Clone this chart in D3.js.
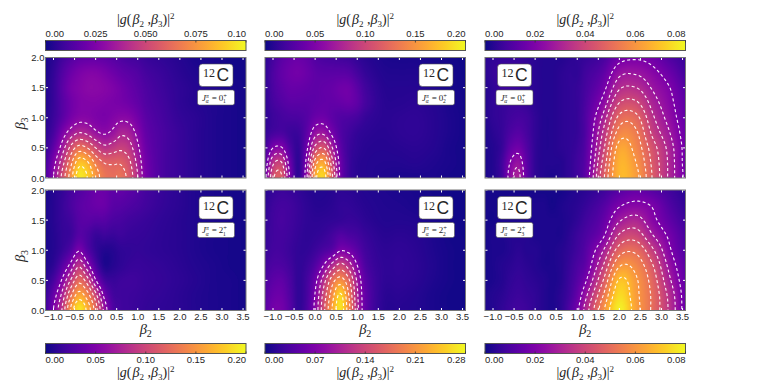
<!DOCTYPE html>
<html>
<head>
<meta charset="utf-8">
<script src="https://cdnjs.cloudflare.com/ajax/libs/d3/7.8.5/d3.min.js"></script>
<style>
body { margin: 0; background: #fff; }
svg { display: block; }
text { font-family: "Liberation Sans", sans-serif; fill: #262626; }
.math, .math text { font-family: "Liberation Serif", serif; }
</style>
</head>
<body>
<div id="chart"></div>
<script>
// sample positions
var beta2Grid = [-1.2,-1,-.8,-.6,-.4,-.2,0,.2,.4,.6,.8,1,1.2,1.6,2,2.4,2.8,3.2,3.6];
var beta3Grid = [0,.25,.5,.75,1,1.25,1.5,1.75,2];

var xTicks = [-1,-.5,0,.5,1,1.5,2,2.5,3,3.5];
var yTicks = [0,.5,1,1.5,2];

// one row per beta3, one column per beta2
var state01 = [
[.012,.030,.052,.074,.095,.090,.075,.066,.063,.064,.056,.040,.023,.012,.008,.005,.003,.002,.001],
[.010,.026,.045,.066,.086,.082,.068,.060,.059,.059,.052,.037,.022,.012,.008,.005,.003,.002,.001],
[.007,.018,.034,.052,.064,.060,.050,.043,.045,.048,.044,.032,.020,.012,.008,.005,.003,.002,.001],
[.005,.012,.024,.034,.040,.038,.032,.029,.032,.038,.036,.027,.018,.012,.008,.005,.003,.002,.001],
[.004,.009,.016,.023,.027,.027,.025,.024,.026,.028,.027,.022,.016,.011,.007,.005,.003,.002,.001],
[.003,.008,.015,.021,.025,.026,.026,.025,.024,.023,.021,.018,.014,.010,.006,.004,.003,.002,.001],
[.003,.008,.016,.023,.026,.028,.028,.027,.025,.022,.019,.016,.013,.009,.006,.004,.003,.002,.001],
[.002,.007,.014,.020,.024,.026,.026,.024,.021,.018,.016,.014,.011,.008,.005,.003,.002,.001,.001],
[.002,.005,.010,.014,.017,.018,.018,.017,.015,.013,.011,.010,.008,.006,.004,.002,.002,.001,.001]];
var state02 = [
[.038,.105,.112,.048,.012,.066,.160,.182,.115,.045,.018,.010,.008,.006,.005,.005,.005,.003,.002],
[.030,.086,.092,.040,.012,.058,.140,.158,.100,.042,.018,.010,.008,.007,.007,.008,.006,.004,.002],
[.020,.050,.052,.026,.014,.045,.096,.110,.072,.034,.018,.012,.009,.008,.009,.010,.008,.004,.002],
[.014,.022,.024,.018,.018,.034,.062,.066,.046,.028,.020,.014,.011,.009,.011,.012,.009,.005,.002],
[.012,.018,.022,.024,.025,.030,.040,.042,.034,.028,.026,.022,.015,.010,.011,.012,.009,.005,.002],
[.012,.022,.028,.032,.032,.032,.034,.036,.036,.038,.040,.034,.022,.010,.009,.010,.008,.004,.002],
[.012,.025,.033,.038,.038,.036,.034,.036,.038,.042,.042,.032,.020,.009,.008,.008,.006,.003,.002],
[.012,.026,.036,.042,.044,.040,.034,.032,.032,.032,.030,.022,.014,.007,.006,.006,.004,.003,.001],
[.010,.022,.032,.038,.040,.036,.028,.024,.022,.020,.018,.013,.009,.005,.004,.004,.003,.002,.001]];
var state03 = [
[.002,.003,.008,.023,.029,.014,.005,.003,.002,.003,.005,.008,.014,.044,.067,.062,.046,.031,.017],
[.002,.003,.008,.020,.025,.013,.005,.003,.003,.003,.005,.008,.013,.041,.066,.060,.045,.031,.016],
[.002,.003,.006,.014,.017,.011,.005,.003,.003,.004,.005,.007,.012,.037,.063,.057,.043,.030,.016],
[.002,.004,.006,.010,.012,.009,.005,.003,.003,.004,.005,.006,.011,.033,.056,.054,.038,.027,.015],
[.003,.005,.006,.008,.009,.008,.005,.003,.003,.004,.005,.006,.011,.028,.049,.049,.034,.024,.014],
[.003,.005,.006,.007,.007,.006,.004,.003,.003,.004,.005,.006,.010,.022,.040,.041,.030,.022,.013],
[.003,.005,.007,.007,.006,.005,.004,.003,.003,.004,.005,.006,.009,.017,.032,.033,.026,.020,.011],
[.004,.006,.007,.008,.007,.006,.004,.003,.003,.004,.005,.005,.008,.013,.025,.026,.022,.016,.008],
[.004,.005,.006,.006,.006,.005,.004,.003,.003,.003,.004,.005,.006,.009,.017,.019,.017,.011,.006]];
var state21 = [
[.018,.050,.090,.150,.190,.165,.120,.065,.028,.020,.018,.016,.014,.012,.010,.007,.005,.004,.002],
[.014,.040,.075,.125,.159,.140,.098,.046,.022,.019,.018,.017,.015,.013,.010,.007,.005,.004,.002],
[.009,.024,.052,.090,.123,.100,.052,.022,.016,.018,.019,.018,.016,.014,.011,.008,.005,.004,.002],
[.005,.012,.030,.055,.086,.058,.025,.006,.008,.012,.015,.016,.015,.013,.010,.007,.005,.003,.002],
[.004,.008,.016,.028,.048,.030,.014,.007,.008,.012,.013,.014,.013,.011,.009,.006,.004,.003,.002],
[.004,.008,.014,.018,.030,.025,.016,.018,.016,.018,.016,.015,.014,.011,.009,.006,.004,.003,.002],
[.004,.009,.015,.020,.030,.032,.030,.030,.025,.023,.020,.018,.016,.012,.009,.006,.004,.003,.002],
[.004,.009,.016,.024,.032,.036,.040,.040,.032,.030,.027,.024,.020,.014,.010,.006,.004,.003,.002],
[.003,.008,.014,.022,.028,.034,.040,.040,.034,.036,.032,.028,.022,.015,.010,.006,.004,.003,.002]];
var state22 = [
[.045,.062,.062,.042,.018,.035,.078,.150,.220,.265,.200,.110,.050,.015,.012,.010,.006,.003,.002],
[.040,.055,.056,.038,.018,.032,.072,.140,.205,.255,.190,.105,.050,.016,.014,.011,.006,.003,.002],
[.034,.046,.048,.034,.018,.030,.060,.115,.175,.204,.165,.095,.045,.018,.017,.014,.008,.004,.002],
[.028,.036,.036,.028,.018,.024,.040,.070,.110,.140,.115,.070,.035,.018,.018,.015,.009,.004,.002],
[.022,.030,.030,.024,.018,.018,.025,.035,.045,.068,.062,.045,.028,.016,.017,.014,.008,.004,.002],
[.020,.028,.030,.026,.020,.016,.018,.022,.030,.040,.035,.030,.022,.013,.014,.012,.007,.003,.002],
[.018,.028,.032,.028,.022,.017,.015,.016,.018,.020,.022,.020,.015,.010,.010,.009,.005,.003,.001],
[.016,.026,.030,.028,.022,.016,.012,.012,.014,.018,.018,.015,.012,.009,.008,.006,.004,.002,.001],
[.012,.020,.024,.022,.018,.013,.010,.010,.012,.015,.014,.012,.010,.008,.006,.005,.003,.002,.001]];
var state23 = [
[.002,.003,.005,.007,.008,.007,.005,.003,.002,.004,.010,.018,.031,.057,.078,.063,.050,.034,.014],
[.002,.003,.004,.006,.007,.006,.005,.003,.002,.004,.008,.015,.026,.051,.074,.062,.050,.033,.014],
[.001,.002,.003,.005,.006,.005,.004,.003,.002,.003,.007,.012,.019,.043,.069,.061,.048,.029,.013],
[.001,.002,.003,.004,.005,.004,.003,.002,.002,.003,.006,.010,.014,.035,.059,.057,.044,.025,.012],
[.001,.002,.002,.003,.004,.003,.003,.002,.002,.003,.005,.008,.012,.027,.048,.050,.037,.021,.010],
[.001,.002,.002,.003,.003,.003,.002,.002,.002,.002,.004,.007,.010,.018,.037,.040,.028,.018,.009],
[.001,.001,.002,.002,.002,.002,.002,.002,.002,.002,.003,.005,.008,.014,.027,.031,.022,.014,.007],
[.001,.001,.001,.002,.002,.002,.002,.002,.001,.002,.003,.004,.006,.011,.019,.022,.019,.011,.005],
[.001,.001,.001,.001,.001,.001,.001,.001,.001,.001,.002,.003,.004,.007,.012,.015,.012,.008,.004]];

// contour levels
var levels01 = [.03,.04,.05,.06,.07,.08,.09];
var levels02 = [.05,.07,.09,.11,.13,.15,.17];
var levels03 = [.02,.027,.033,.04,.047,.053,.06];
var levels21 = [.05,.07,.09,.11,.13,.15,.17];
var levels22 = [.07,.10,.13,.16,.19,.22,.25];
var levels23 = [.02,.028,.036,.044,.052,.06,.068];

// colorbar ticks
var cbarValues01 = [0,.025,.05,.075,.1];
var cbarLabels01 = ["0.00","0.025","0.050","0.075","0.10"];
var cbarValues02 = [0,.05,.1,.15,.2];
var cbarLabels02 = ["0.00","0.05","0.10","0.15","0.20"];
var cbarValues03 = [0,.02,.04,.06,.08];
var cbarLabels03 = ["0.00","0.02","0.04","0.06","0.08"];
var cbarValues21 = [0,.05,.1,.15,.2];
var cbarLabels21 = ["0.00","0.05","0.10","0.15","0.20"];
var cbarValues22 = [0,.07,.14,.21,.28];
var cbarLabels22 = ["0.00","0.07","0.14","0.21","0.28"];
var cbarValues23 = [0,.02,.04,.06,.08];
var cbarLabels23 = ["0.00","0.02","0.04","0.06","0.08"];

var panels = [
    {col:0, row:0, z:state01, levels:levels01, ticks:cbarValues01, labels:cbarLabels01, spin:"0", idx:"1"},
    {col:1, row:0, z:state02, levels:levels02, ticks:cbarValues02, labels:cbarLabels02, spin:"0", idx:"2"},
    {col:2, row:0, z:state03, levels:levels03, ticks:cbarValues03, labels:cbarLabels03, spin:"0", idx:"3"},
    {col:0, row:1, z:state21, levels:levels21, ticks:cbarValues21, labels:cbarLabels21, spin:"2", idx:"1"},
    {col:1, row:1, z:state22, levels:levels22, ticks:cbarValues22, labels:cbarLabels22, spin:"2", idx:"2"},
    {col:2, row:1, z:state23, levels:levels23, ticks:cbarValues23, labels:cbarLabels23, spin:"2", idx:"3"}
];

var colLeft = [45.5, 265, 485];
var rowTop = [57.5, 190];
var panelW = 200.5, panelH = 120.5;
var boxLeft = [153.5, 154, 12.5];

var svg = d3.select("#chart").append("svg").attr("width", 762).attr("height", 388);
var defs = svg.append("defs");

// piecewise cubic through the read values
function hermite(xs, ys, x) {
    var n = xs.length;
    var i = Math.max(0, Math.min(n - 2, d3.bisectRight(xs, x) - 1));
    var h = xs[i + 1] - xs[i];
    var t = (x - xs[i]) / h;
    var s0 = i > 0 ? (ys[i + 1] - ys[i - 1]) / (xs[i + 1] - xs[i - 1]) : (ys[1] - ys[0]) / h;
    var s1 = i < n - 2 ? (ys[i + 2] - ys[i]) / (xs[i + 2] - xs[i]) : (ys[n - 1] - ys[n - 2]) / h;
    var t2 = t * t, t3 = t2 * t;
    return (2*t3 - 3*t2 + 1) * ys[i] + (t3 - 2*t2 + t) * h * s0 + (-2*t3 + 3*t2) * ys[i + 1] + (t3 - t2) * h * s1;
}

// write a line of mixed serif text, parts are [text, style, dy, size, dx]
function mathParts(t, parts) {
    parts.forEach(function(p) {
        var s = t.append("tspan").text(p[0]);
        if (p[1]) s.style("font-style", p[1]);
        if (p[2]) s.attr("dy", p[2]);
        if (p[3]) s.style("font-size", p[3] + "px");
        if (p[4]) s.attr("dx", p[4]);
    });
}

var titleParts = [["|"],["g","italic"],["("],["β","italic",0,0,1],["2","normal",3,9],[" ,","normal",-3],["β","italic"],["3","normal",3,9],[")","normal",-3],["|"],["2","normal",-5,9]];

panels.forEach(function(p, k) {
    var x0 = colLeft[p.col], y0 = rowTop[p.row];
    var x = d3.scaleLinear().domain([-1.19, 3.57]).range([x0, x0 + panelW]);
    var y = d3.scaleLinear().domain([0, 2]).range([y0 + panelH, y0]);
    var vmax = p.ticks[p.ticks.length - 1];
    var color = d3.scaleSequential(d3.interpolatePlasma).domain([0, vmax]);

    // mirror the first row so the field is smooth at beta3 = 0
    var b3 = [-.25].concat(beta3Grid);
    var zRows = [p.z[1]].concat(p.z);

    var nx = Math.round(panelW) + 1, ny = Math.round(panelH) + 1;
    var cols = d3.range(nx).map(function(i) {
        var bx = x.invert(x0 + i * panelW / (nx - 1));
        return zRows.map(function(r) { return hermite(beta2Grid, r, bx); });
    });
    function field(i, j) {
        // j = 0 is beta3 = 2, j = ny-1 is beta3 = 0
        var by = Math.abs(y.invert(y0 + j * panelH / (ny - 1)));
        return Math.max(0, hermite(b3, cols[i], by));
    }

    // heatmap
    var canvas = document.createElement("canvas");
    canvas.width = nx; canvas.height = ny;
    var ctx = canvas.getContext("2d");
    var mirrored = new Float64Array(nx * (2 * ny - 1));
    for (var j = 0; j < ny; j++) {
        for (var i = 0; i < nx; i++) {
            var v = field(i, j);
            mirrored[j * nx + i] = v;
            mirrored[(2 * ny - 2 - j) * nx + i] = v;
            ctx.fillStyle = color(Math.min(v, vmax));
            ctx.fillRect(i, j, 1, 1);
        }
    }
    svg.append("image")
        .attr("x", x0).attr("y", y0)
        .attr("width", panelW).attr("height", panelH)
        .attr("preserveAspectRatio", "none")
        .attr("href", canvas.toDataURL());

    // contours, drawn on the mirrored field then clipped so nothing runs along the axis
    var clipId = "clip" + k;
    defs.append("clipPath").attr("id", clipId).append("rect")
        .attr("x", x0).attr("y", y0).attr("width", panelW).attr("height", panelH);
    var m = 2 * ny - 1;
    var cx = d3.scaleLinear().domain([.5, nx - .5]).range([x0, x0 + panelW]);
    var cy = d3.scaleLinear().domain([.5, ny - .5]).range([y0, y0 + panelH]);
    var path = d3.geoPath(d3.geoTransform({
        point: function(a, b) { this.stream.point(cx(a), cy(b)); }
    }));
    var contours = d3.contours().size([nx, m]).thresholds(p.levels)(mirrored);
    svg.append("g").attr("clip-path", "url(#" + clipId + ")")
        .selectAll("path").data(contours).enter().append("path")
        .attr("d", path)
        .attr("fill", "none")
        .attr("stroke", "#fff")
        .attr("stroke-opacity", .95)
        .attr("stroke-width", 1.1)
        .attr("stroke-dasharray", "3,2.5");

    // white inward ticks on all sides
    var ticks = svg.append("g").attr("stroke", "#fff").attr("stroke-width", 1);
    xTicks.forEach(function(d) {
        ticks.append("line").attr("x1", x(d)).attr("x2", x(d)).attr("y1", y0).attr("y2", y0 + 2.5);
        ticks.append("line").attr("x1", x(d)).attr("x2", x(d)).attr("y1", y0 + panelH).attr("y2", y0 + panelH - 2.5);
    });
    yTicks.forEach(function(d) {
        ticks.append("line").attr("x1", x0).attr("x2", x0 + 2.5).attr("y1", y(d)).attr("y2", y(d));
        ticks.append("line").attr("x1", x0 + panelW).attr("x2", x0 + panelW - 2.5).attr("y1", y(d)).attr("y2", y(d));
    });

    // frame
    svg.append("rect")
        .attr("x", x0).attr("y", y0).attr("width", panelW).attr("height", panelH)
        .attr("fill", "none").attr("stroke", "#777").attr("stroke-width", 1);

    // tick labels
    if (p.col == 0) {
        yTicks.forEach(function(d) {
            svg.append("text").attr("x", x0 - 1).attr("y", y(d) + 3.5)
                .attr("text-anchor", "end").style("font-size", "9.5px").text(d3.format(".1f")(d));
        });
        var yl = svg.append("text").attr("class", "math")
            .attr("transform", "translate(25," + (y0 + 66) + ") rotate(-90)")
            .attr("text-anchor", "middle").style("font-size", "14.5px");
        mathParts(yl, [["β","italic"],["3","normal",3,10]]);
    }
    if (p.row == 1) {
        xTicks.forEach(function(d) {
            svg.append("text").attr("x", x(d)).attr("y", y0 + panelH + 9.8)
                .attr("text-anchor", "middle").style("font-size", "9.5px")
                .text(d3.format(".1f")(d).replace("-", "\u2212"));
        });
        var xl = svg.append("text").attr("class", "math")
            .attr("x", x0 + panelW / 2).attr("y", y0 + panelH + 23)
            .attr("text-anchor", "middle").style("font-size", "14.5px");
        mathParts(xl, [["β","italic"],["2","normal",3,10]]);
    }

    // colorbar
    var barY = p.row == 0 ? 40.5 : 343.5;
    var gradId = "grad" + k;
    var grad = defs.append("linearGradient").attr("id", gradId);
    d3.range(0, 1.001, .05).forEach(function(f) {
        grad.append("stop").attr("offset", f).attr("stop-color", d3.interpolatePlasma(f));
    });
    svg.append("rect").attr("x", x0).attr("y", barY).attr("width", panelW).attr("height", 10)
        .attr("fill", "url(#" + gradId + ")").attr("stroke", "#555").attr("stroke-width", 1);
    var bx = d3.scaleLinear().domain([0, vmax]).range([x0, x0 + panelW]);
    p.ticks.forEach(function(d, i) {
        var tickY = p.row == 0 ? barY : barY + 10;
        var tickEnd = p.row == 0 ? barY + 2 : barY + 8;
        svg.append("line").attr("x1", bx(d)).attr("x2", bx(d)).attr("y1", tickY).attr("y2", tickEnd)
            .attr("stroke", "#333").attr("stroke-width", .8);
        var anchor = i == 0 ? "start" : (i == p.ticks.length - 1 ? "end" : "middle");
        svg.append("text").attr("x", bx(d)).attr("y", p.row == 0 ? 37 : 362.5)
            .attr("text-anchor", anchor).style("font-size", "9.5px").text(p.labels[i]);
    });
    var title = svg.append("text").attr("class", "math")
        .attr("x", x0 + panelW / 2).attr("y", p.row == 0 ? 24 : 377)
        .attr("text-anchor", "middle").style("font-size", "14px");
    mathParts(title, titleParts);

    // 12C badge
    var bxLeft = x0 + boxLeft[p.col];
    svg.append("rect").attr("x", bxLeft).attr("y", y0 + 6.5).attr("width", 34).attr("height", 22.5)
        .attr("rx", 3.5).attr("fill", "#fff").attr("stroke", "#555").attr("stroke-width", .6);
    var badge = svg.append("text").attr("x", bxLeft + 17).attr("y", y0 + 23.5)
        .attr("text-anchor", "middle");
    badge.append("tspan").attr("dy", -4).style("font-size", "12px")
        .style("font-family", "'Liberation Serif', serif").text("12");
    badge.append("tspan").attr("dy", 4).attr("dx", 1.5).style("font-size", "17.5px").text("C");

    // state label
    svg.append("rect").attr("x", bxLeft - 1.5).attr("y", y0 + 32.5).attr("width", 37).attr("height", 15)
        .attr("rx", 2).attr("fill", "#fff").attr("stroke", "#555").attr("stroke-width", .6);
    var lab = svg.append("text").attr("class", "math")
        .attr("x", bxLeft + 3).attr("y", y0 + 43).style("font-size", "9px");
    mathParts(lab, [["J","italic"],["π","italic",-3,5.5],["α","italic",5.5,5.5,-3],["=","normal",-2.5,9,3],[p.spin,"normal",0,9,2],["+","normal",-3,6.5],[p.idx,"normal",5.5,5.5,-4]]);
});
</script>
</body>
</html>
